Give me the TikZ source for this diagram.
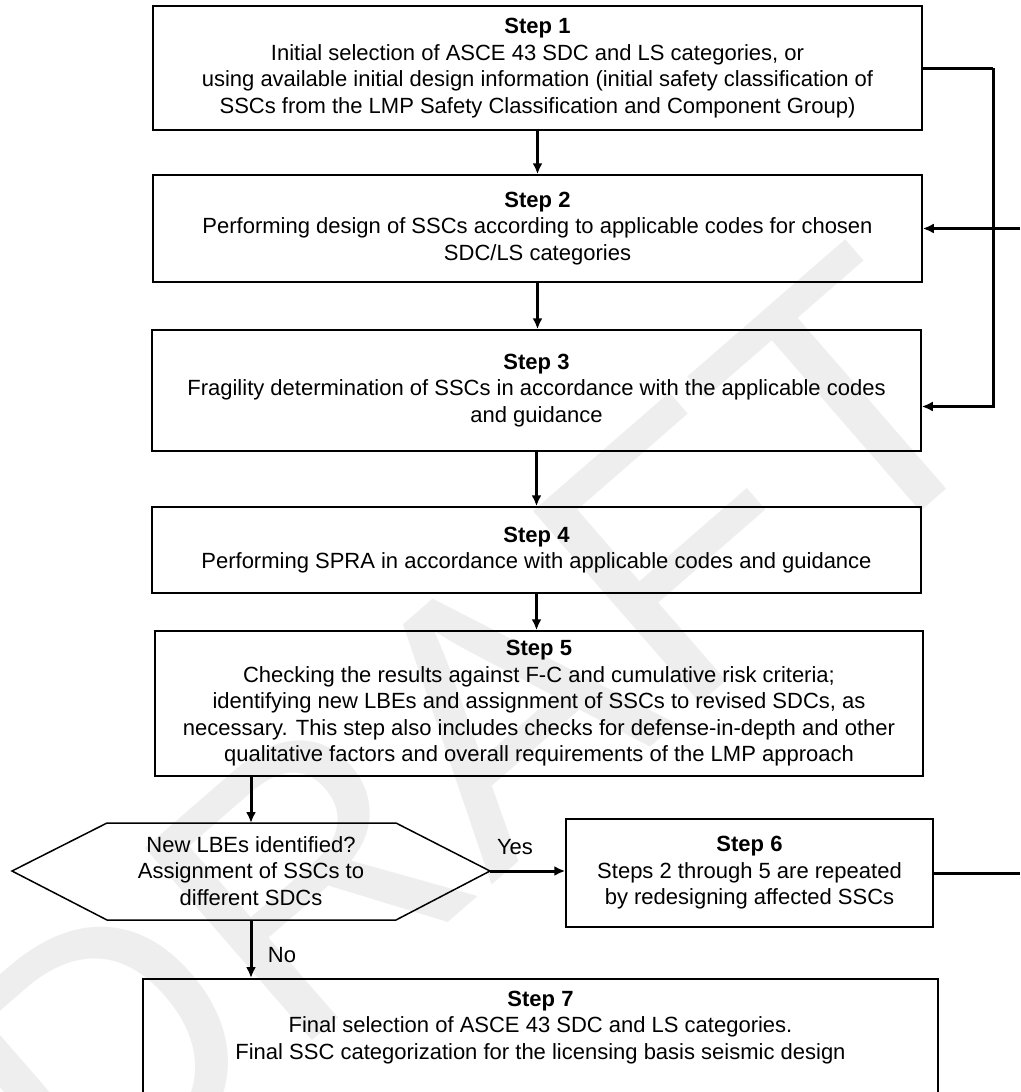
\documentclass[tikz,border=0pt]{standalone}
\usepackage{fontspec}
\setmainfont{Liberation Sans}
\usetikzlibrary{arrows.meta,calc}

\tikzset{
  stepbox/.style={draw,line width=1.5pt,align=center,inner sep=0pt,
    font=\fontsize{22}{26.5}\selectfont},
  flow/.style={line width=3pt,-{Latex[length=11pt,width=10pt]}},
  plain/.style={line width=3pt},
  lbl/.style={font=\fontsize{22}{26.5}\selectfont,inner sep=0pt}
}

\begin{document}
\begin{tikzpicture}[x=1pt,y=-1pt]
  \path[use as bounding box,clip] (0,0) rectangle (1020,1092);
  % watermark
  \node[rotate=41,text=gray!13,inner sep=0pt,
    font=\fontsize{370}{370}\selectfont] (wm) at (470,735) {DRAFT};
  % 1. the step boxes
  \node[stepbox,minimum width=769pt,minimum height=124pt] (S1) at (537.5,68)
    {\textbf{Step 1}\\Initial selection of ASCE 43 SDC and LS categories, or\\
     using available initial design information (initial safety classification of\\
     SSCs from the LMP Safety Classification and Component Group)};
  \node[stepbox,minimum width=769pt,minimum height=107pt] (S2) at (537.5,228.5)
    {\textbf{Step 2}\\Performing design of SSCs according to applicable codes for chosen\\
     SDC/LS categories};
  \node[stepbox,minimum width=769pt,minimum height=121pt] (S3) at (536.5,390.5)
    {\textbf{Step 3}\\Fragility determination of SSCs in accordance with the applicable codes\\
     and guidance};
  \node[stepbox,minimum width=769pt,minimum height=86pt] (S4) at (536.5,550)
    {\textbf{Step 4}\\Performing SPRA in accordance with applicable codes and guidance};
  \node[stepbox,minimum width=768pt,minimum height=145pt] (S5) at (539,703.5)
    {\textbf{Step 5}\\Checking the results against F-C and cumulative risk criteria;\\
     identifying new LBEs and assignment of SSCs to revised SDCs, as\\
     necessary. This step also includes checks for defense-in-depth and other\\
     qualitative factors and overall requirements of the LMP approach};
  \node[stepbox,minimum width=367pt,minimum height=108pt] (S6) at (749.5,873)
    {\textbf{Step 6}\\Steps 2 through 5 are repeated\\by redesigning affected SSCs};
  \node[stepbox,minimum width=795pt,anchor=north,inner ysep=12pt,text depth=110pt]
    (S7) at (540.5,978)
    {\textbf{Step 7}\\Final selection of ASCE 43 SDC and LS categories.\\
     Final SSC categorization for the licensing basis seismic design};
  % 2. the decision
  \node[lbl,align=center] (Q) at (251,871)
    {New LBEs identified?\\Assignment of SSCs to\\different SDCs};
  \coordinate (Qw) at (12,871);
  \coordinate (Qe) at (490,871);
  \coordinate (Qn) at (251,823);
  \coordinate (Qs) at (251,920);
  \draw[line width=1.5pt] (Qw) -- (107,823) -- (396,823) -- (Qe)
    -- (396,920) -- (107,920) -- cycle;
  % 3. the flow
  \draw[flow] (S1.south) -- (S1.south |- S2.north);
  \draw[flow] (S2.south) -- (S2.south |- S3.north);
  \draw[flow] (S3.south) -- (S3.south |- S4.north);
  \draw[flow] (S4.south) -- (S4.south |- S5.north);
  \draw[flow] (S5.south -| Qn) -- (Qn);
  \draw[flow] (Qe) -- (Qe -| S6.west);
  \draw[flow] (Qs) -- (Qs |- S7.north);
  \node[lbl] (yes) at (515,847) {Yes};
  \node[lbl] (no) at (282,955) {No};
  % 4. loop back on the right
  \coordinate (R) at (993,0);
  \coordinate (Edge) at (1020,0);
  \draw[plain] (S1.east) -- (S1.east -| R);
  \draw[flow] (S1.east -| R) |- ([yshift=-16pt]S3.east);
  \draw[flow] (S2.east -| Edge) -- (S2.east);
  \draw[plain] (S6.east) -- (S6.east -| Edge);
\end{tikzpicture}
\end{document}
